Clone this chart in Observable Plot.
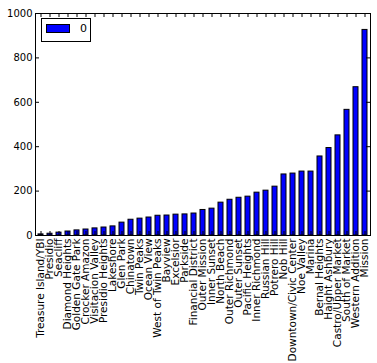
<!DOCTYPE html>
<html>
<head>
<meta charset="utf-8">
<script src="https://cdn.jsdelivr.net/npm/d3@7"></script>
<script src="https://cdn.jsdelivr.net/npm/@observablehq/plot@0.6"></script>
<style>
  body { margin: 0; background: white; }
  #wrap { position: relative; width: 377px; height: 363px; font-family: "DejaVu Sans", sans-serif; }
  #legend { position: absolute; left: 41px; top: 18px; width: 48px; height: 22px; border: 1px solid black; background: white; box-sizing: content-box; }
  #legend .patch { position: absolute; left: 4px; top: 5px; width: 22px; height: 7px; background: #0000ff; border: 1px solid black; }
  #legend .lab { position: absolute; left: 38px; top: 3px; font-size: 11px; line-height: 13px; color: black; }
</style>
</head>
<body>
<div id="wrap"></div>
<script>
const categories = ["Treasure Island/YBI","Presidio","Seacliff","Diamond Heights","Golden Gate Park","Crocker Amazon","Visitacion Valley","Presidio Heights","Lakeshore","Glen Park","Chinatown","Twin Peaks","Ocean View","West of Twin Peaks","Bayview","Excelsior","Parkside","Financial District","Outer Mission","Inner Sunset","North Beach","Outer Richmond","Outer Sunset","Pacific Heights","Inner Richmond","Russian Hill","Potrero Hill","Nob Hill","Downtown/Civic Center","Noe Valley","Marina","Bernal Heights","Haight Ashbury","Castro/Upper Market","South of Market","Western Addition","Mission"];
const values = [5, 8, 13, 18, 23, 27, 32, 36, 41, 58, 71, 76, 81, 89, 90, 94, 95, 99, 115, 121, 148, 161, 170, 175, 193, 202, 220, 275, 279, 288, 288, 356, 394, 451, 566, 668, 926];
const yTicks = [0, 200, 400, 600, 800, 1000];
const seriesName = "0";

const data = categories.map((c, i) => ({name: c, value: values[i]}));

const W = 377, H = 363, mL = 35, mR = 7, mT = 13, mB = 128;
const pw = W - mL - mR, ph = H - mT - mB;

const chart = Plot.plot({
  width: W, height: H,
  marginLeft: mL, marginRight: mR, marginTop: mT, marginBottom: mB,
  style: {fontFamily: "DejaVu Sans", fontSize: "10px", color: "black", background: "white", overflow: "visible"},
  x: {type: "band", domain: categories, paddingInner: 0.5, paddingOuter: 0.25, axis: null, label: null},
  y: {domain: [0, 1000], axis: null, label: null},
  marks: [
    Plot.barY(data, {x: "name", y: "value", fill: "#0000ff", stroke: "black", strokeWidth: 1}),
    Plot.tickY(yTicks, {y: d => d, stroke: "black", insetRight: pw - 4}),
    Plot.tickY(yTicks, {y: d => d, stroke: "black", insetLeft: pw - 4}),
    Plot.tickX(categories, {x: d => d, stroke: "black", insetBottom: ph - 4}),
    Plot.tickX(categories, {x: d => d, stroke: "black", insetTop: ph - 4}),
    Plot.axisY({ticks: yTicks, tickSize: 0, tickPadding: 3, fontSize: 10, fill: "black", label: null, tickFormat: d => String(d)}),
    Plot.axisX({anchor: "bottom", tickSize: 0, tickPadding: 3, tickRotate: -90, fontSize: 10.5, fill: "black", label: null}),
    Plot.frame({stroke: "black", strokeWidth: 1})
  ]
});

const wrap = document.getElementById("wrap");
wrap.appendChild(chart);
const lg = document.createElement("div");
lg.id = "legend";
lg.innerHTML = '<div class="patch"></div><div class="lab"></div>';
lg.querySelector(".lab").textContent = seriesName;
wrap.appendChild(lg);
</script>
</body>
</html>
